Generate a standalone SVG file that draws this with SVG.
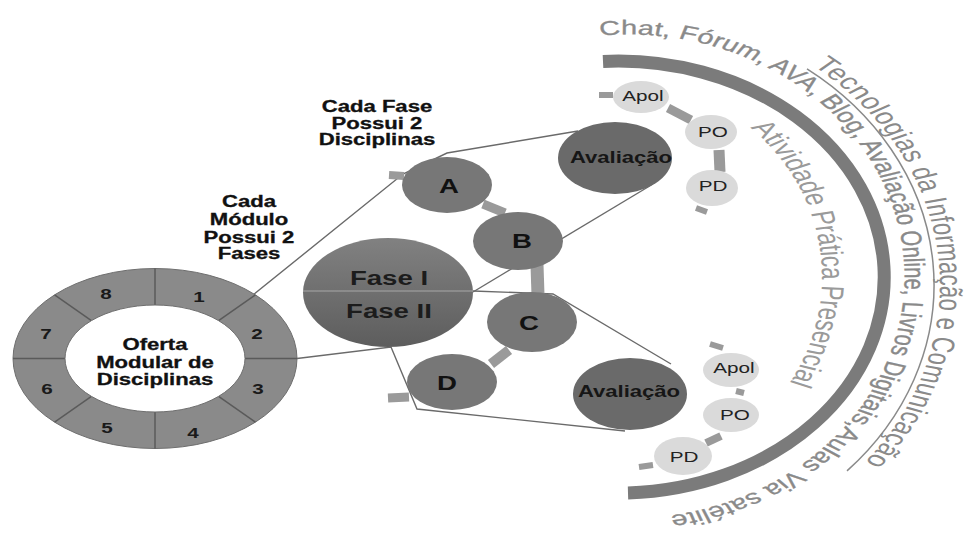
<svg xmlns="http://www.w3.org/2000/svg" width="968" height="536" viewBox="0 0 968 536">
  <defs>
    <linearGradient id="faseFill" x1="0" y1="0" x2="0" y2="1">
      <stop offset="0" stop-color="#818181"/>
      <stop offset="1" stop-color="#5d5d5d"/>
    </linearGradient>
    <!-- text baselines, in the stretched local frame of #media-text -->
    <path id="chatArc" d="M-13.8,-241.4 A191,242 0 1 1 20.7,240.6"/>
    <path id="ticArc" d="M133.1,-211.3 A220.7,275 0 0 1 162.1,194.6"/>
    <path id="apArc" d="M89.7,-149.2 A139.3,195 0 0 1 111.7,116.5"/>
  </defs>
  <style>
    text { font-family: "Liberation Sans", Arial, sans-serif; }
    .lbl { font-weight: bold; font-size: 16px; fill: #111; stroke: #111; stroke-width: 0.3; text-anchor: middle; }
    .num { font-weight: bold; font-size: 15px; fill: #1a1a1a; text-anchor: middle; }
    .fase { font-weight: bold; font-size: 20px; fill: #1c1c1c; text-anchor: middle; }
    .disc { fill: #777; }
    .discTxt { font-weight: bold; font-size: 20px; fill: #111; text-anchor: middle; }
    .aval { fill: #6a6a6a; }
    .avalTxt { font-weight: bold; font-size: 16px; fill: #161616; text-anchor: middle; }
    .act { fill: #dadada; }
    .actTxt { font-size: 15px; fill: #222; text-anchor: middle; }
    .bar { stroke: #9a9a9a; fill: none; }
    .link { stroke: #6a6a6a; stroke-width: 1.4; fill: none; }
    .seg { stroke: #5a5a5a; stroke-width: 1.5; }
    .arcTxt { fill: #8a8a8a; }
  </style>

  <rect width="968" height="536" fill="#fff"/>

  <!-- outer band: tools and media -->
  <g id="media-band">
    <path d="M603,61.4 A266,216 0 1 1 628,492.9" fill="none" stroke="#7b7b7b" stroke-width="13"/>
    <path d="M807,68.9 A314,269 0 0 1 847,470.9" fill="none" stroke="#8a8a8a" stroke-width="1.5"/>
    <g id="media-text" transform="translate(620,277) scale(1.45,1)">
      <text class="arcTxt" font-size="20" stroke="#8a8a8a" stroke-width="0.3"><textPath href="#chatArc" textLength="672" lengthAdjust="spacing">Chat, Fórum, AVA, Blog, Avaliação Online, Livros Digitais,Aulas Via satélite</textPath></text>
      <text class="arcTxt" font-size="22" fill="#858585"><textPath href="#ticArc" textLength="430" lengthAdjust="spacing">Tecnologias da Informação e Comunicação</textPath></text>
      <text class="arcTxt" font-size="22" style="fill:#9a9a9a"><textPath href="#apArc" textLength="270" lengthAdjust="spacing">Atividade Prática Presencial</textPath></text>
    </g>
  </g>

  <!-- connectors -->
  <g id="connectors">
    <polyline class="link" points="253,295 403,174 447,153 578,131"/>
    <polyline class="link" points="297,358.5 391,347 417,409 625,431"/>
    <polyline class="link" points="473,291 553,294 671,364"/>
    <line class="link" x1="473" y1="292" x2="653" y2="184"/>
    <!-- chain bars between circles -->
    <line class="bar" x1="389" y1="175" x2="404" y2="176" stroke-width="8"/>
    <line class="bar" x1="483" y1="204" x2="505" y2="213" stroke-width="9"/>
    <line class="bar" x1="537" y1="265" x2="538" y2="295" stroke-width="13"/>
    <line class="bar" x1="491" y1="364" x2="509" y2="350" stroke-width="10"/>
    <line class="bar" x1="388" y1="398" x2="409" y2="397" stroke-width="9"/>
    <line class="bar" x1="599" y1="95" x2="613" y2="95" stroke-width="6"/>
    <line class="bar" x1="668" y1="108" x2="691" y2="120" stroke-width="9"/>
    <line class="bar" x1="719" y1="150" x2="720" y2="172" stroke-width="11"/>
    <line class="bar" x1="696" y1="208" x2="707" y2="212" stroke-width="6"/>
    <line class="bar" x1="710" y1="344" x2="723" y2="348" stroke-width="6"/>
    <line class="bar" x1="736" y1="391" x2="744" y2="393" stroke-width="6"/>
    <line class="bar" x1="706" y1="443" x2="721" y2="436" stroke-width="8"/>
    <line class="bar" x1="639" y1="467" x2="653" y2="465" stroke-width="6"/>
  </g>

  <!-- module ring -->
  <g id="ring">
    <ellipse cx="155" cy="358.5" rx="142" ry="90" fill="#8a8a8a" stroke="#6e6e6e" stroke-width="1"/>
    <line class="seg" x1="245" y1="358.5" x2="297" y2="358.5"/>
    <line class="seg" x1="218.6" y1="320.7" x2="255.4" y2="294.9"/>
    <line class="seg" x1="155" y1="305" x2="155" y2="268.5"/>
    <line class="seg" x1="91.4" y1="320.7" x2="54.6" y2="294.9"/>
    <line class="seg" x1="65" y1="358.5" x2="13" y2="358.5"/>
    <line class="seg" x1="91.4" y1="396.3" x2="54.6" y2="422.1"/>
    <line class="seg" x1="155" y1="412" x2="155" y2="448.5"/>
    <line class="seg" x1="218.6" y1="396.3" x2="255.4" y2="422.1"/>
    <ellipse cx="155" cy="358.5" rx="90" ry="53.5" fill="#fff" stroke="#6e6e6e" stroke-width="1"/>
    <text class="num" transform="translate(199,301.5) scale(1.38,1)">1</text>
    <text class="num" transform="translate(257,338.5) scale(1.38,1)">2</text>
    <text class="num" transform="translate(258,393.5) scale(1.38,1)">3</text>
    <text class="num" transform="translate(193,437.5) scale(1.38,1)">4</text>
    <text class="num" transform="translate(107,432.5) scale(1.38,1)">5</text>
    <text class="num" transform="translate(47,393.5) scale(1.38,1)">6</text>
    <text class="num" transform="translate(46,338.5) scale(1.38,1)">7</text>
    <text class="num" transform="translate(106,298.5) scale(1.38,1)">8</text>
    <text class="lbl" transform="translate(155,350) scale(1.38,1)">Oferta</text>
    <text class="lbl" transform="translate(155,368) scale(1.38,1)">Modular de</text>
    <text class="lbl" transform="translate(155,385) scale(1.38,1)">Disciplinas</text>
  </g>

  <!-- phases -->
  <g id="fases">
    <ellipse cx="388" cy="292.5" rx="85" ry="54.5" fill="url(#faseFill)"/>
    <line x1="303" y1="291" x2="473" y2="291" stroke="#a8a8a8" stroke-width="1.2"/>
    <text class="fase" transform="translate(389,285) scale(1.38,1)">Fase I</text>
    <text class="fase" transform="translate(389,318) scale(1.38,1)">Fase II</text>
  </g>

  <!-- disciplines -->
  <g id="disc-A">
    <ellipse class="disc" cx="447" cy="185" rx="45" ry="28"/>
    <text class="discTxt" transform="translate(449,193) scale(1.38,1)">A</text>
  </g>
  <g id="disc-B">
    <ellipse class="disc" cx="518" cy="241" rx="45" ry="29"/>
    <text class="discTxt" transform="translate(522,248) scale(1.38,1)">B</text>
  </g>
  <g id="disc-C">
    <ellipse class="disc" cx="532" cy="322" rx="45" ry="30"/>
    <text class="discTxt" transform="translate(529,330) scale(1.38,1)">C</text>
  </g>
  <g id="disc-D">
    <ellipse class="disc" cx="452" cy="382" rx="45" ry="28"/>
    <text class="discTxt" transform="translate(447,390) scale(1.38,1)">D</text>
  </g>

  <!-- assessments, phase I -->
  <g id="aval-1">
    <ellipse class="aval" cx="615" cy="158" rx="57" ry="36"/>
    <text class="avalTxt" transform="translate(621,163) scale(1.38,1)">Avaliação</text>
  </g>
  <g id="apol-1">
    <ellipse class="act" cx="641" cy="97" rx="28" ry="16"/>
    <text class="actTxt" transform="translate(643,101) scale(1.38,1)">Apol</text>
  </g>
  <g id="po-1">
    <ellipse class="act" cx="711" cy="132" rx="26" ry="17"/>
    <text class="actTxt" transform="translate(713,137) scale(1.38,1)">PO</text>
  </g>
  <g id="pd-1">
    <ellipse class="act" cx="712" cy="188" rx="26" ry="18"/>
    <text class="actTxt" transform="translate(713,191) scale(1.38,1)">PD</text>
  </g>

  <!-- assessments, phase II -->
  <g id="aval-2">
    <ellipse class="aval" cx="630" cy="394" rx="57" ry="36"/>
    <text class="avalTxt" transform="translate(629,397) scale(1.38,1)">Avaliação</text>
  </g>
  <g id="apol-2">
    <ellipse class="act" cx="731" cy="370" rx="28" ry="17"/>
    <text class="actTxt" transform="translate(734,373) scale(1.38,1)">Apol</text>
  </g>
  <g id="po-2">
    <ellipse class="act" cx="731" cy="415" rx="28" ry="17"/>
    <text class="actTxt" transform="translate(735,420) scale(1.38,1)">PO</text>
  </g>
  <g id="pd-2">
    <ellipse class="act" cx="683" cy="456" rx="29" ry="19"/>
    <text class="actTxt" transform="translate(684,462) scale(1.38,1)">PD</text>
  </g>

  <!-- captions -->
  <g id="captions">
    <text class="lbl" transform="translate(377,111.5) scale(1.38,1)">Cada Fase</text>
    <text class="lbl" transform="translate(377,128.5) scale(1.38,1)">Possui 2</text>
    <text class="lbl" transform="translate(377,145) scale(1.38,1)">Disciplinas</text>
    <text class="lbl" transform="translate(249,207) scale(1.38,1)">Cada</text>
    <text class="lbl" transform="translate(249,225) scale(1.38,1)">Módulo</text>
    <text class="lbl" transform="translate(249,243) scale(1.38,1)">Possui 2</text>
    <text class="lbl" transform="translate(249,259) scale(1.38,1)">Fases</text>
  </g>
</svg>
